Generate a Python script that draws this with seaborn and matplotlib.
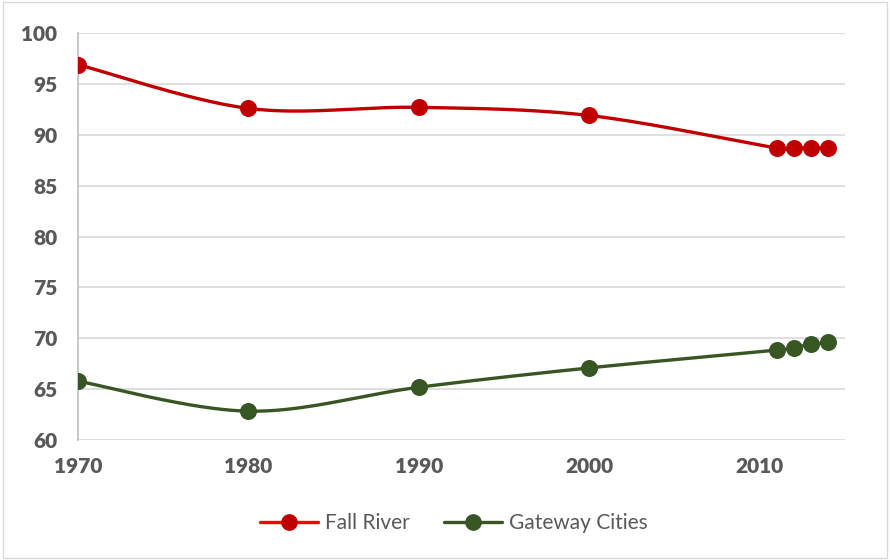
import numpy as np
import pandas as pd
import matplotlib
matplotlib.use("Agg")
import matplotlib.pyplot as plt
import seaborn as sns
from matplotlib.lines import Line2D
from matplotlib.patches import Rectangle

years = [1970, 1980, 1990, 2000, 2011, 2012, 2013, 2014]
fall_river = [96.9, 92.6, 92.7, 91.9, 88.7, 88.7, 88.7, 88.7]
gateway = [65.8, 62.85, 65.2, 67.1, 68.85, 69.1, 69.4, 69.6]
series_names = ["Fall River", "Gateway Cities"]
x_ticks = [1970, 1980, 1990, 2000, 2010]
y_ticks = [60, 65, 70, 75, 80, 85, 90, 95, 100]

line_colors = ["#C00000", "#375623"]
legend_line_colors = ["#FF0000", "#375623"]

sns.set_theme(style="white")
plt.rcParams["font.family"] = ["Lato", "DejaVu Sans"]

fig = plt.figure(figsize=(8.9, 5.6), dpi=100)
ax = fig.add_axes([0.0876, 0.214, 0.8618, 0.727])

# pixel-like scaling for smoothing (Excel-style bezier)
sx, sy = 17.03, 10.175

def smooth(xs, ys, n=40):
    P = np.column_stack([np.array(xs, float) * sx, np.array(ys, float) * sy])
    m = len(P)
    out = []
    for i in range(m - 1):
        p0 = P[i - 1] if i > 0 else P[i]
        p1 = P[i]
        p2 = P[i + 1]
        p3 = P[i + 2] if i + 2 < m else P[i + 1]
        c1 = p1 + (p2 - p0) / 6.0
        c2 = p2 - (p3 - p1) / 6.0
        t = np.linspace(0, 1, n)[:, None]
        seg = (1 - t) ** 3 * p1 + 3 * (1 - t) ** 2 * t * c1 + 3 * (1 - t) * t ** 2 * c2 + t ** 3 * p2
        out.append(seg if i == 0 else seg[1:])
    S = np.vstack(out)
    return S[:, 0] / sx, S[:, 1] / sy

for name, vals, col in zip(series_names, [fall_river, gateway], line_colors):
    xs, ys = smooth(years, vals)
    curve = pd.DataFrame({"x": xs, "y": ys})
    sns.lineplot(data=curve, x="x", y="y", ax=ax, color=col, linewidth=2.4,
                 sort=False, estimator=None, zorder=3)
    pts = pd.DataFrame({"x": years, "y": vals})
    sns.scatterplot(data=pts, x="x", y="y", ax=ax, color=col, s=150,
                    edgecolor=col, linewidth=0, zorder=4)

ax.set_xlim(1970, 2015)
ax.set_ylim(60, 100)
ax.set_xticks(x_ticks)
ax.set_yticks(y_ticks)
ax.set_xlabel("")
ax.set_ylabel("")
ax.grid(axis="y", color="#D9D9D9", linewidth=1.2)
ax.grid(axis="x", visible=False)
for s in ["top", "right", "bottom"]:
    ax.spines[s].set_visible(False)
ax.spines["left"].set_color("#BFBFBF")
ax.spines["left"].set_linewidth(1.2)
ax.tick_params(axis="both", length=0, labelsize=15, labelcolor="#595959")
for lab in ax.get_xticklabels() + ax.get_yticklabels():
    lab.set_fontweight("heavy")
ax.tick_params(axis="x", pad=12)
ax.tick_params(axis="y", pad=15)

handles = [Line2D([0], [0], color=lc, lw=2.4, marker="o", markersize=11,
                  markerfacecolor=mc, markeredgecolor=mc)
           for lc, mc in zip(legend_line_colors, line_colors)]
leg = fig.legend(handles, series_names, loc="center", bbox_to_anchor=(0.51, 0.066),
                 ncol=2, frameon=False, fontsize=15, handlelength=2.8,
                 columnspacing=1.6, handletextpad=0.35)
for t in leg.get_texts():
    t.set_color("#595959")

fig.patches.append(Rectangle((0.003, 0.004), 0.994, 0.992, transform=fig.transFigure,
                             fill=False, edgecolor="#D9D9D9", linewidth=1.0))

fig.savefig("out.png", dpi=100)
